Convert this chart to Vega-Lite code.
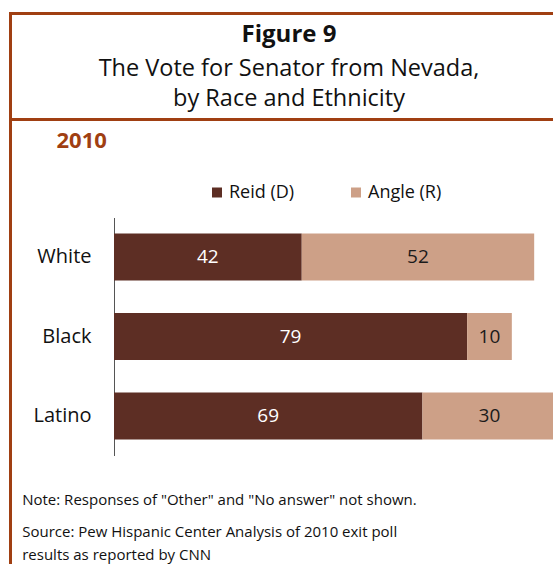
{
  "$schema": "https://vega.github.io/schema/vega-lite/v6.json",
  "padding": {"left": 8.5, "top": 11.5, "right": 0, "bottom": 0},
  "spacing": 0,
  "bounds": "flush",
  "background": "white",
  "config": {
    "font": "Open Sans",
    "view": {"stroke": "#a03f12", "strokeWidth": 3},
    "concat": {"spacing": 0}
  },
  "vconcat": [
    {
      "width": 557,
      "height": 106,
      "view": {"stroke": "#a03f12", "strokeWidth": 3},
      "data": {"values": [{"t": ""}]},
      "mark": {"type": "text"},
      "encoding": {
        "x": {"datum": 0.5, "type": "quantitative", "scale": {"domain": [0, 1]}, "axis": null},
        "y": {"datum": 0.5, "type": "quantitative", "scale": {"domain": [0, 1]}, "axis": null},
        "text": {"field": "t"}
      },
      "title": {
        "text": "Figure 9",
        "subtitle": ["The Vote for Senator from Nevada,", "by Race and Ethnicity"],
        "anchor": "middle",
        "orient": "top",
        "offset": -96.5,
        "font": "Open Sans",
        "fontSize": 24,
        "fontWeight": "bold",
        "color": "#111111",
        "subtitleFont": "Open Sans",
        "subtitleFontSize": 23.5,
        "subtitleColor": "#111111",
        "subtitleLineHeight": 30,
        "subtitlePadding": 10
      }
    },
    {
      "width": 557,
      "height": 460,
      "view": {"stroke": "#a03f12", "strokeWidth": 3},
      "data": {
        "values": [
          {"race": "White", "candidate": "Reid (D)", "pct": 42},
          {"race": "White", "candidate": "Angle (R)", "pct": 52},
          {"race": "Black", "candidate": "Reid (D)", "pct": 79},
          {"race": "Black", "candidate": "Angle (R)", "pct": 10},
          {"race": "Latino", "candidate": "Reid (D)", "pct": 69},
          {"race": "Latino", "candidate": "Angle (R)", "pct": 30}
        ]
      },
      "title": {
        "text": "2010",
        "anchor": "start",
        "orient": "top",
        "offset": -33,
        "dx": 46,
        "fontSize": 22,
        "fontWeight": "bold",
        "color": "#a03f12"
      },
      "encoding": {
        "y": {
          "field": "race",
          "type": "nominal",
          "sort": ["White", "Black", "Latino"],
          "scale": {"range": [98, 336], "paddingInner": 0.41, "paddingOuter": 0.2},
          "axis": {
            "orient": "left",
            "offset": -103.5,
            "domain": true,
            "domainColor": "#555555",
            "domainWidth": 1,
            "ticks": false,
            "grid": false,
            "labelPadding": 23,
            "labelFontSize": 20,
            "labelColor": "#111111",
            "title": "Note: Responses of \"Other\" and \"No answer\" not shown.",
            "titleAngle": 0,
            "titleAlign": "left",
            "titleBaseline": "alphabetic",
            "titleX": -92.3,
            "titleY": 384.5,
            "titleFontSize": 15,
            "titleFontWeight": "normal",
            "titleColor": "#111111"
          }
        },
        "x": {
          "field": "pct",
          "type": "quantitative",
          "stack": "zero",
          "scale": {"domain": [0, 100], "range": [103.5, 550.5]},
          "axis": {
            "labels": false,
            "ticks": false,
            "domain": false,
            "grid": false,
            "title": ["Source: Pew Hispanic Center Analysis of 2010 exit poll", "results as reported by CNN"],
            "titleAnchor": "start",
            "titleAlign": "left",
            "titleBaseline": "alphabetic",
            "titleX": 11.2,
            "titleY": -43.5,
            "titleLineHeight": 23.5,
            "titleFontSize": 15,
            "titleFontWeight": "normal",
            "titleColor": "#111111"
          }
        },
        "order": {"field": "candidate", "sort": "descending"}
      },
      "layer": [
        {
          "mark": {"type": "bar"},
          "encoding": {
            "color": {
              "field": "candidate",
              "type": "nominal",
              "sort": ["Reid (D)", "Angle (R)"],
              "scale": {"domain": ["Reid (D)", "Angle (R)"], "range": ["#5d2e24", "#cda087"]},
              "legend": {
                "orient": "none",
                "legendX": 197.5,
                "legendY": 170,
                "direction": "horizontal",
                "title": null,
                "symbolType": "square",
                "symbolSize": 100,
                "symbolStrokeWidth": 0,
                "labelFontSize": 18,
                "labelColor": "#111111",
                "labelOffset": 3,
                "columnPadding": 52
              }
            }
          }
        },
        {
          "mark": {"type": "text", "fontSize": 19},
          "encoding": {
            "x": {"field": "pct", "type": "quantitative", "stack": "zero", "bandPosition": 0.5},
            "detail": {"field": "candidate"},
            "text": {"field": "pct", "type": "quantitative"},
            "color": {
              "condition": {"test": "datum.candidate === 'Reid (D)'", "value": "#ffffff"},
              "value": "#1a1a1a"
            }
          }
        }
      ]
    }
  ]
}
